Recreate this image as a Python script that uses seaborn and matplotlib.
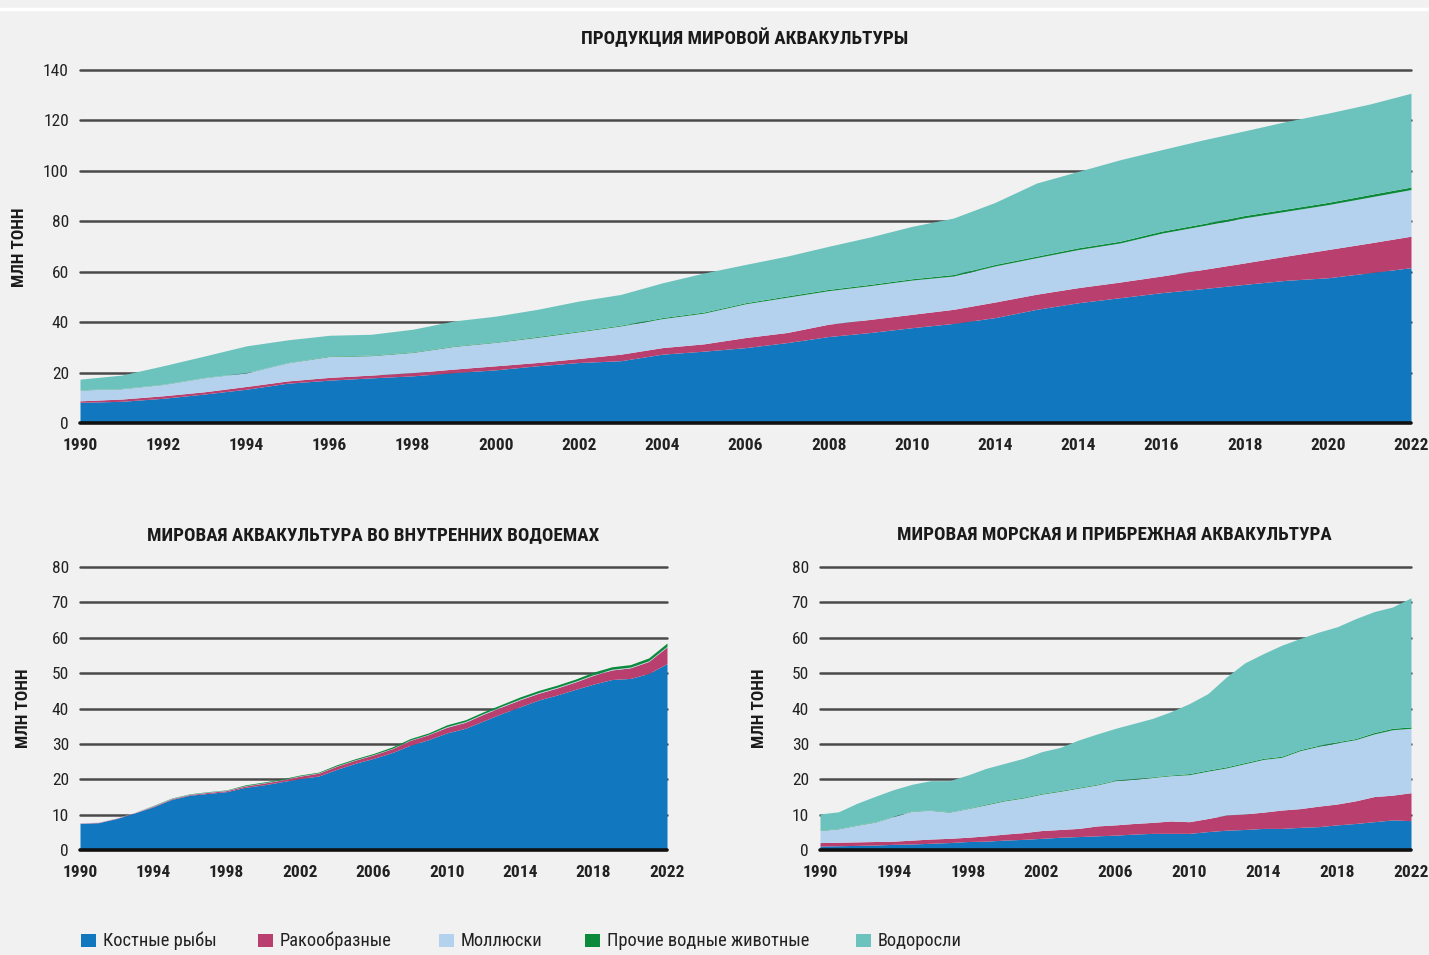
import numpy as np
import pandas as pd
import matplotlib
matplotlib.use("Agg")
import matplotlib.pyplot as plt
import seaborn as sns
from matplotlib.patches import Rectangle
from matplotlib import font_manager as fm

# ---------------- data ----------------
years = list(range(1990, 2023))
series_names = ["Костные рыбы", "Ракообразные", "Моллюски", "Прочие водные животные", "Водоросли"]
colors = ["#1177be", "#b9406e", "#b4d2ee", "#0a8a3a", "#6cc3bd"]

# World aquaculture production (million tonnes)
world_fish = [8.2, 8.6, 9.8, 11.5, 13.4, 15.8, 17.0, 17.9, 18.7, 20.0, 21.1, 22.7, 24.0, 24.7, 27.3, 28.5,
              29.9, 31.9, 34.3, 35.9, 37.8, 39.5, 41.8, 45.1, 47.7, 49.7, 51.7, 53.3, 55.0, 56.6, 57.6, 59.6, 61.6]
world_crust = [0.6, 0.9, 1.0, 0.9, 1.1, 0.9, 1.1, 1.1, 1.3, 1.4, 1.6, 1.3, 1.6, 2.6, 2.6, 2.9,
               4.0, 4.0, 4.9, 5.2, 5.3, 5.6, 6.2, 6.0, 6.0, 6.2, 6.6, 7.6, 8.5, 9.6, 11.2, 11.8, 12.5]
world_moll = [4.3, 4.1, 4.5, 5.6, 5.4, 7.2, 8.3, 7.7, 8.0, 9.0, 9.3, 10.0, 10.6, 11.2, 11.5, 12.2,
              13.4, 14.0, 13.3, 13.4, 13.6, 13.2, 14.3, 14.5, 15.1, 15.5, 17.0, 17.4, 17.9, 17.8, 17.8, 18.2, 18.5]
world_other = [0.1, 0.1, 0.1, 0.1, 0.1, 0.1, 0.2, 0.2, 0.2, 0.2, 0.2, 0.3, 0.3, 0.3, 0.4, 0.4,
               0.4, 0.5, 0.5, 0.5, 0.5, 0.6, 0.6, 0.6, 0.7, 0.7, 0.8, 0.8, 0.9, 0.9, 0.9, 1.0, 1.0]
world_algae = [4.2, 5.3, 7.3, 8.5, 10.6, 9.0, 8.2, 8.3, 9.0, 9.9, 10.2, 10.8, 11.9, 12.2, 13.8, 15.5,
               15.2, 15.8, 17.1, 18.8, 20.8, 22.4, 24.6, 29.0, 30.3, 32.3, 32.3, 33.2, 33.6, 34.7, 35.4, 35.9, 37.2]

# Inland aquaculture
inland_fish = [7.5, 7.7, 8.9, 10.5, 12.2, 14.3, 15.5, 16.0, 16.5, 17.7, 18.4, 19.3, 20.2, 20.9, 22.8, 24.5,
               25.9, 27.5, 29.6, 31.2, 33.1, 34.4, 36.5, 38.6, 40.5, 42.4, 43.8, 45.4, 46.9, 48.2, 48.5, 49.9, 52.7]
inland_crust = [0.1, 0.1, 0.1, 0.1, 0.2, 0.2, 0.2, 0.3, 0.3, 0.4, 0.5, 0.5, 0.7, 0.8, 0.9, 0.9,
                1.0, 1.1, 1.4, 1.4, 1.6, 1.7, 1.9, 1.9, 2.0, 1.9, 2.0, 2.1, 2.5, 2.7, 3.0, 3.4, 4.7]
inland_moll = [0.1, 0.1, 0.1, 0.1, 0.1, 0.1, 0.1, 0.1, 0.1, 0.1, 0.1, 0.1, 0.1, 0.1, 0.1, 0.1,
               0.1, 0.1, 0.1, 0.1, 0.2, 0.2, 0.2, 0.2, 0.2, 0.2, 0.2, 0.2, 0.2, 0.2, 0.2, 0.2, 0.2]
inland_other = [0.0, 0.0, 0.0, 0.0, 0.1, 0.1, 0.1, 0.1, 0.1, 0.2, 0.2, 0.2, 0.2, 0.2, 0.3, 0.3,
                0.3, 0.4, 0.4, 0.4, 0.5, 0.5, 0.5, 0.5, 0.6, 0.6, 0.6, 0.6, 0.7, 0.7, 0.7, 0.8, 0.9]
inland_algae = [0.0] * 33

# Marine and coastal aquaculture
marine_fish = [1.1, 1.2, 1.3, 1.4, 1.6, 1.7, 1.9, 2.1, 2.4, 2.5, 2.8, 3.0, 3.3, 3.6, 3.8, 4.0,
               4.2, 4.5, 4.7, 4.7, 4.7, 5.2, 5.6, 5.8, 6.1, 6.1, 6.4, 6.6, 7.1, 7.5, 8.0, 8.5, 8.3]
marine_crust = [1.0, 1.0, 1.0, 1.0, 0.9, 1.1, 1.2, 1.2, 1.2, 1.5, 1.7, 1.9, 2.2, 2.2, 2.3, 2.8,
                2.9, 3.0, 3.1, 3.5, 3.3, 3.7, 4.3, 4.4, 4.6, 5.2, 5.3, 5.8, 5.9, 6.4, 7.1, 7.0, 7.9]
marine_moll = [3.4, 3.8, 4.7, 5.5, 7.0, 8.2, 8.1, 7.4, 8.1, 8.8, 9.4, 9.8, 10.3, 10.8, 11.4, 11.6,
               12.5, 12.5, 12.7, 12.8, 13.3, 13.4, 13.3, 14.2, 14.9, 14.9, 16.4, 16.9, 17.3, 17.3, 17.7, 18.5, 18.2]
marine_other = [0.1, 0.1, 0.1, 0.1, 0.1, 0.1, 0.1, 0.1, 0.1, 0.2, 0.2, 0.2, 0.2, 0.2, 0.2, 0.2,
                0.2, 0.2, 0.2, 0.2, 0.3, 0.3, 0.3, 0.3, 0.3, 0.3, 0.3, 0.3, 0.3, 0.3, 0.4, 0.4, 0.4]
marine_algae = [4.6, 4.7, 6.1, 7.2, 7.5, 7.5, 8.3, 8.8, 9.4, 10.1, 10.4, 11.0, 11.8, 12.2, 13.4, 14.2,
                14.6, 15.6, 16.5, 17.9, 19.8, 21.6, 25.4, 28.2, 29.6, 31.4, 31.4, 32.0, 32.5, 33.9, 34.2, 34.3, 36.5]

titles = ["ПРОДУКЦИЯ МИРОВОЙ АКВАКУЛЬТУРЫ",
          "МИРОВАЯ АКВАКУЛЬТУРА ВО ВНУТРЕННИХ ВОДОЕМАХ",
          "МИРОВАЯ МОРСКАЯ И ПРИБРЕЖНАЯ АКВАКУЛЬТУРА"]
ylabel = "МЛН ТОНН"

top_xticks = list(range(1990, 2023, 2))
top_xticklabels = ["1990", "1992", "1994", "1996", "1998", "2000", "2002", "2004", "2006", "2008",
                   "2010", "2014", "2014", "2016", "2018", "2020", "2022"]
top_yticks = [0, 20, 40, 60, 80, 100, 120, 140]
bot_xticks = list(range(1990, 2023, 4))
bot_yticks = [0, 10, 20, 30, 40, 50, 60, 70, 80]

# ---------------- style ----------------
sns.set_style("white")
BG = "#f1f1f1"

# pick a condensed font if one is installed
entries = fm.fontManager.ttflist
names = {f.name for f in entries}
family = None
stretch = "normal"
for cand in ["Liberation Sans Narrow", "Roboto Condensed", "Open Sans Condensed", "Noto Sans Condensed",
             "DejaVu Sans Condensed"]:
    if cand in names:
        family = cand
        break
if family is None:
    for f in entries:
        if f.name == "DejaVu Sans" and str(f.stretch) in ("condensed", "semi-condensed", "extra-condensed"):
            family = "DejaVu Sans"
            stretch = "condensed"
            break
if family is None:
    for f in entries:
        if ("Condensed" in f.name or "Narrow" in f.name):
            family = f.name
            break
if family is None:
    family = "Roboto" if "Roboto" in names else "DejaVu Sans"
    narrow = False
else:
    narrow = True

plt.rcParams["font.family"] = [family, "DejaVu Sans"]
plt.rcParams["font.stretch"] = stretch

# font sizes (smaller if no condensed face is available)
k = 1.0 if narrow else 0.86
FS_YTICK = 12.5 * k
FS_XTICK = 12.5 * k
FS_TITLE = 13.7 * k
FS_YLAB = 12.5 * k
FS_LEG = 13.2 * k

W, H = 1429, 955
fig = plt.figure(figsize=(W / 100, H / 100), dpi=100, facecolor=BG)


def ax_rect(x0, x1, y_bottom, y_top):
    return [x0 / W, 1 - y_bottom / H, (x1 - x0) / W, (y_bottom - y_top) / H]


def draw(ax, data, yticks, ymax, xticks, xticklabels):
    df = pd.DataFrame(dict(zip(series_names, data)), index=years)
    ax.set_facecolor(BG)
    ax.stackplot(df.index, *[df[c].values for c in series_names], colors=colors, lw=0, zorder=2)
    for yv in yticks[1:]:
        ax.axhline(yv, color="#4a4a4a", lw=1.8, zorder=1, clip_on=False)
    ax.axhline(0, color="#111111", lw=2.6, zorder=3, clip_on=False)
    ax.set_xlim(1990, 2022)
    ax.set_ylim(0, ymax)
    ax.set_yticks(yticks)
    ax.set_yticklabels([str(v) for v in yticks], fontsize=FS_YTICK, color="#222222")
    ax.set_xticks(xticks)
    ax.set_xticklabels(xticklabels, fontsize=FS_XTICK, fontweight="bold", color="#222222")
    ax.tick_params(axis="y", length=0, pad=8)
    ax.tick_params(axis="x", length=0, pad=11)
    sns.despine(ax=ax, left=True, bottom=True, top=True, right=True)


ax_top = fig.add_axes(ax_rect(80, 1411, 423, 423 - 140.5 * 2.521))
draw(ax_top, [world_fish, world_crust, world_moll, world_other, world_algae],
     top_yticks, 140.5, top_xticks, top_xticklabels)

ax_bl = fig.add_axes(ax_rect(80, 667, 850, 850 - 80.5 * 3.5375))
draw(ax_bl, [inland_fish, inland_crust, inland_moll, inland_other, inland_algae],
     bot_yticks, 80.5, bot_xticks, [str(v) for v in bot_xticks])

ax_br = fig.add_axes(ax_rect(820, 1411, 850, 850 - 80.5 * 3.5375))
draw(ax_br, [marine_fish, marine_crust, marine_moll, marine_other, marine_algae],
     bot_yticks, 80.5, bot_xticks, [str(v) for v in bot_xticks])

# titles
fig.text(745 / W, 1 - 38 / H, titles[0], ha="center", va="center", fontsize=FS_TITLE, fontweight="bold", color="#1a1a1a")
fig.text(373 / W, 1 - 535 / H, titles[1], ha="center", va="center", fontsize=FS_TITLE, fontweight="bold", color="#1a1a1a")
fig.text(1114 / W, 1 - 535 / H, titles[2], ha="center", va="center", fontsize=FS_TITLE, fontweight="bold", color="#1a1a1a")

# y labels
for (x, y) in [(20, 247), (24, 708), (760, 708)]:
    fig.text(x / W, 1 - y / H, ylabel, rotation=90, ha="center", va="center",
             fontsize=FS_YLAB, fontweight="bold", color="#1a1a1a")

# white strip at top
fig.add_artist(plt.Line2D([0, 1], [1 - 9 / H, 1 - 9 / H], color="white", lw=2.5, transform=fig.transFigure))

# legend (entries placed like the reference)
leg_sq_x = [81, 258, 439, 585, 856]
for name, c, x in zip(series_names, colors, leg_sq_x):
    fig.add_artist(Rectangle((x / W, 1 - 947 / H), 15 / W, 13 / H, transform=fig.transFigure,
                             facecolor=c, edgecolor="none"))
    fig.text((x + 22) / W, 1 - 941 / H, name, ha="left", va="center", fontsize=FS_LEG, color="#222222")

fig.savefig("out.png", dpi=100, facecolor=BG)
